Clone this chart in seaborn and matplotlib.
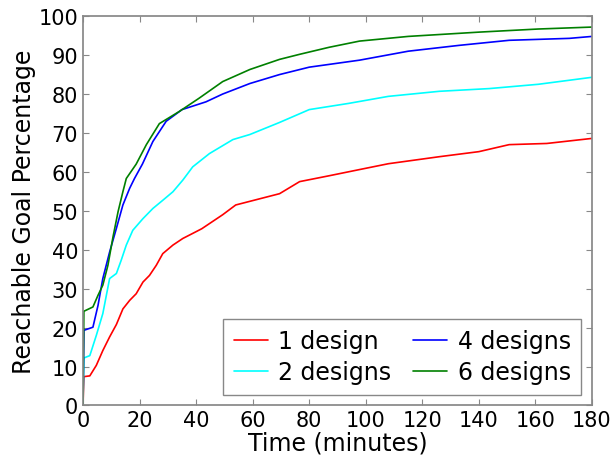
import matplotlib
matplotlib.use("Agg")
import matplotlib.pyplot as plt
import seaborn as sns
import pandas as pd

# reachable goal percentage over time
t_1 = [0, 0.3, 2.4, 4.7, 7, 9.4, 11.8, 14.1, 16.5, 18.8, 21.2, 23.5, 25.9, 28.2,
       31.8, 35.3, 38.8, 42, 49.4, 54, 62, 69.5, 76.6, 87, 97.8, 108, 126, 140,
       150.7, 164, 180]
v_1 = [0, 7.4, 7.6, 10.3, 14.1, 17.6, 20.8, 24.8, 27, 28.7, 31.7, 33.4, 36, 39,
       41.2, 42.9, 44.2, 45.4, 49, 51.5, 53, 54.4, 57.5, 59, 60.6, 62.1, 63.9, 65.2,
       67, 67.3, 68.6]

t_2 = [0, 0.3, 2.4, 4.7, 7, 9.4, 11.8, 13.5, 15.3, 17.6, 21.2, 24.7, 28.2, 31.8,
       35.3, 38.8, 44.7, 53, 59, 69.5, 80, 94, 108, 126, 143.7, 161, 180]
v_2 = [0, 12.2, 12.8, 18, 23.6, 32.6, 33.9, 37.3, 41.2, 45, 48, 50.6, 52.7, 54.9,
       57.9, 61.3, 64.7, 68.3, 69.6, 72.7, 76, 77.6, 79.4, 80.7, 81.4, 82.5, 84.3]

t_4 = [0, 0.3, 3.5, 5.3, 7, 9.4, 11.8, 14.1, 16.5, 18.2, 21, 24.7, 29.4, 35, 43.5,
       49.4, 59, 69.5, 80, 97.8, 115, 133, 150.7, 172, 180]
v_4 = [0, 19.3, 20.1, 25.7, 32.6, 39.4, 45.5, 51.5, 55.8, 58.3, 62, 67.8, 73, 76, 78,
       80, 82.7, 85, 86.9, 88.7, 91, 92.5, 93.8, 94.3, 94.8]

t_6 = [0, 0.3, 3.5, 5.3, 7, 8.8, 10.6, 12.4, 14.1, 15.3, 18.8, 22.4, 27, 34, 41,
       49.4, 59, 69.5, 76.6, 87, 97.8, 115, 140, 161, 180]
v_6 = [0, 24.2, 25.3, 28.3, 30.9, 36, 43.3, 49.8, 54.9, 58.3, 62, 67, 72.4, 75.5,
       78.9, 83.2, 86.3, 88.9, 90.2, 92, 93.6, 94.8, 95.9, 96.7, 97.2]

labels = ["1 design", "2 designs", "4 designs", "6 designs"]
colors = ["red", "cyan", "blue", "green"]

frames = []
for lab, t, v in zip(labels, [t_1, t_2, t_4, t_6], [v_1, v_2, v_4, v_6]):
    frames.append(pd.DataFrame({"time": t, "pct": v, "series": lab}))
df = pd.concat(frames, ignore_index=True)

sns.set_theme(style="ticks", rc={
    "axes.edgecolor": "#888888",
    "axes.labelcolor": "black",
    "text.color": "black",
    "xtick.color": "#888888",
    "ytick.color": "#888888",
    "xtick.labelcolor": "black",
    "ytick.labelcolor": "black",
    "xtick.direction": "in",
    "ytick.direction": "in",
    "xtick.top": True,
    "ytick.right": True,
})
plt.rcParams["font.family"] = ["DejaVu Sans"]

fig = plt.figure(figsize=(6.15, 4.64), dpi=100)
ax = fig.add_axes([0.135, 0.124, 0.8276, 0.839])

sns.lineplot(data=df, x="time", y="pct", hue="series", hue_order=labels,
             palette=dict(zip(labels, colors)), linewidth=1.2, ax=ax,
             estimator=None, sort=False)

ax.set_xlim(0, 180)
ax.set_ylim(0, 100)
ax.set_xticks(range(0, 181, 20))
ax.set_yticks(range(0, 101, 10))
ax.tick_params(labelsize=15, length=4, width=0.8)
ax.set_xlabel("Time (minutes)", fontsize=17, labelpad=0)
ax.set_ylabel("Reachable Goal Percentage", fontsize=17, labelpad=2)

handles, _ = ax.get_legend_handles_labels()
leg = ax.legend(handles, labels, loc="lower right", ncol=2, fontsize=17,
                frameon=True, fancybox=False, framealpha=1,
                edgecolor="#888888", handlelength=1.45, handletextpad=0.45,
                columnspacing=0.9, labelspacing=0.3, borderpad=0.45,
                borderaxespad=0.45)
leg.get_frame().set_linewidth(1.0)

fig.savefig("out.png", dpi=100, facecolor="white")
